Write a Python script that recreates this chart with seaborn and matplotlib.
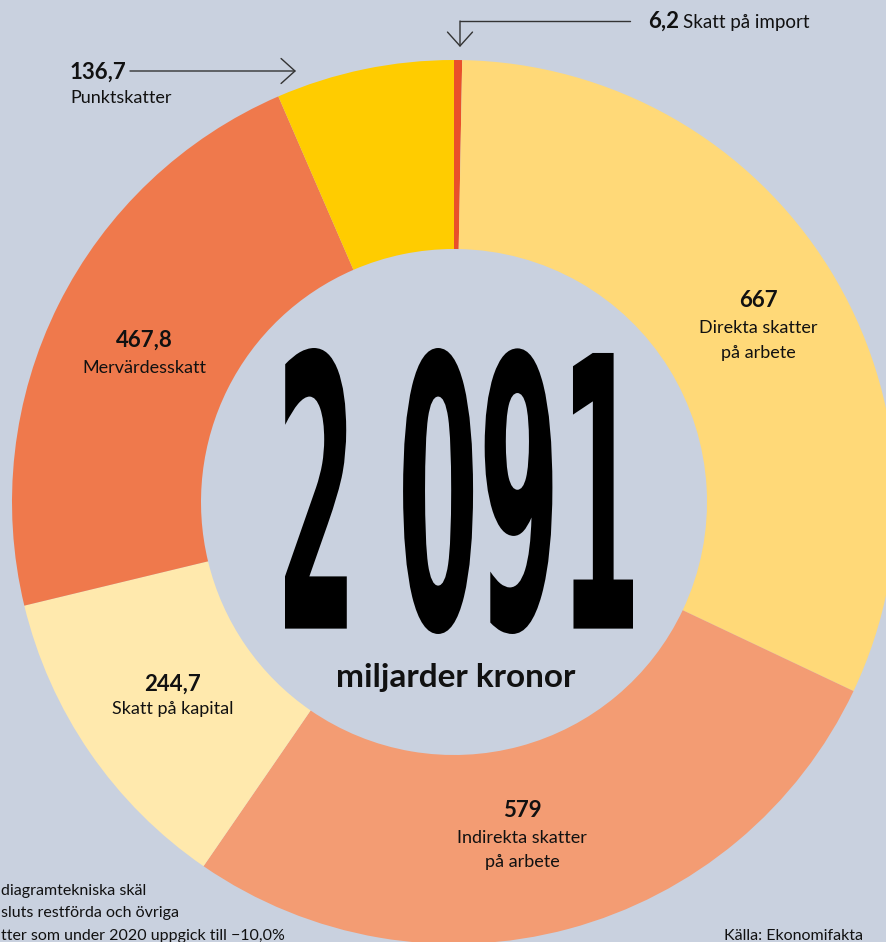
import matplotlib
matplotlib.use("Agg")
import matplotlib.pyplot as plt
import seaborn as sns
from matplotlib.patheffects import AbstractPathEffect
from matplotlib.transforms import Affine2D

W, H = 887, 942
BG = "#C9D1DF"
INK = "#111111"

# slices, clockwise from 12 o'clock
categories = ["Skatt på import", "Direkta skatter\npå arbete", "Indirekta skatter\npå arbete",
              "Skatt på kapital", "Mervärdesskatt", "Punktskatter"]
values = [6.2, 667, 579, 244.7, 467.8, 136.7]
value_labels = ["6,2", "667", "579", "244,7", "467,8", "136,7"]
colors = ["#E9502A", "#FFD978", "#F39C73", "#FFE9AD", "#EF794C", "#FFCC00"]

total_label = "2 091"
unit_label = "miljarder kronor"
source = "Källa: Ekonomifakta"
footnote = ["diagramtekniska skäl", "sluts restförda och övriga", "tter som under 2020 uppgick till −10,0%"]

sns.set_theme(style="white", rc={"figure.facecolor": BG, "axes.facecolor": BG})
plt.rcParams["font.family"] = ["Lato", "DejaVu Sans"]


def py(y):
    # reference pixels are measured from the top
    return H - y


class FitBox(AbstractPathEffect):
    """Squeeze the text path into a box (ref px: x0, top, x1, bottom) to get a condensed look."""

    def __init__(self, box):
        super().__init__()
        self.box = box

    def draw_path(self, renderer, gc, tpath, affine, rgbFace=None):
        ext = tpath.get_extents(affine)
        x0, top, x1, bot = self.box
        fit = (Affine2D().translate(-ext.x0, -ext.y0)
               .scale((x1 - x0) / ext.width, (bot - top) / ext.height)
               .translate(x0, H - bot))
        renderer.draw_path(gc, tpath, affine + fit, rgbFace)


fig = plt.figure(figsize=(W / 100, H / 100), dpi=100)
ax = fig.add_axes([0, 0, 1, 1])
cx, cy, R, r = 454, py(502), 442, 253
ax.pie(values, colors=colors, startangle=90, counterclock=False, radius=R, center=(cx, cy),
       wedgeprops=dict(width=R - r, linewidth=0))
ax.set_xlim(0, W)
ax.set_ylim(0, H)
ax.set_aspect("equal")
ax.axis("off")

# labels inside the ring: (x center, number baseline, label line baselines)
inside = {1: (758, 307, [333, 358]), 2: (522, 817, [843, 867]),
          3: (173, 691, [714]), 4: (144, 347, [373])}
for i, (x, yb, lines) in inside.items():
    ax.text(x, py(yb), value_labels[i], ha="center", va="baseline", fontsize=16,
            fontweight="bold", color=INK)
    for txt, yl in zip(categories[i].split("\n"), lines):
        ax.text(x, py(yl), txt, ha="center", va="baseline", fontsize=13, color=INK)

# Punktskatter with arrow
ax.text(70, py(79), value_labels[5], ha="left", va="baseline", fontsize=16, fontweight="bold", color=INK)
ax.text(70, py(103), categories[5], ha="left", va="baseline", fontsize=13, color=INK)
ax.annotate("", xy=(296, py(71)), xytext=(130, py(71)),
            arrowprops=dict(arrowstyle="->,head_length=0.5,head_width=0.45", lw=1, color="#333333",
                            mutation_scale=20, shrinkA=0, shrinkB=0))

# Skatt på import with elbow leader
ax.text(648, py(28), value_labels[0], ha="left", va="baseline", fontsize=16, fontweight="bold", color=INK)
ax.text(683, py(28), categories[0], ha="left", va="baseline", fontsize=13.5, color=INK)
ax.plot([630, 460], [py(21), py(21)], color="#333333", lw=1)
ax.annotate("", xy=(460, py(47)), xytext=(460, py(21)),
            arrowprops=dict(arrowstyle="->,head_length=0.5,head_width=0.45", lw=1, color="#333333",
                            mutation_scale=20, shrinkA=0, shrinkB=0))

# centre total
ax.text(459, py(491), total_label, ha="center", va="center", fontsize=80, fontweight="bold",
        family=["DejaVu Sans"], fontstretch="condensed", color="black",
        path_effects=[FitBox((285, 348, 633, 634))])
ax.text(456, py(687), unit_label, ha="center", va="baseline", fontsize=24, fontweight="bold", color=INK)

# footnote and source
for txt, yb in zip(footnote, [895, 917, 940]):
    ax.text(1, py(yb), txt, ha="left", va="baseline", fontsize=11.5, color=INK)
ax.text(863, py(940), source, ha="right", va="baseline", fontsize=11.5, color=INK)

fig.savefig("out.png", dpi=100, facecolor=BG)
